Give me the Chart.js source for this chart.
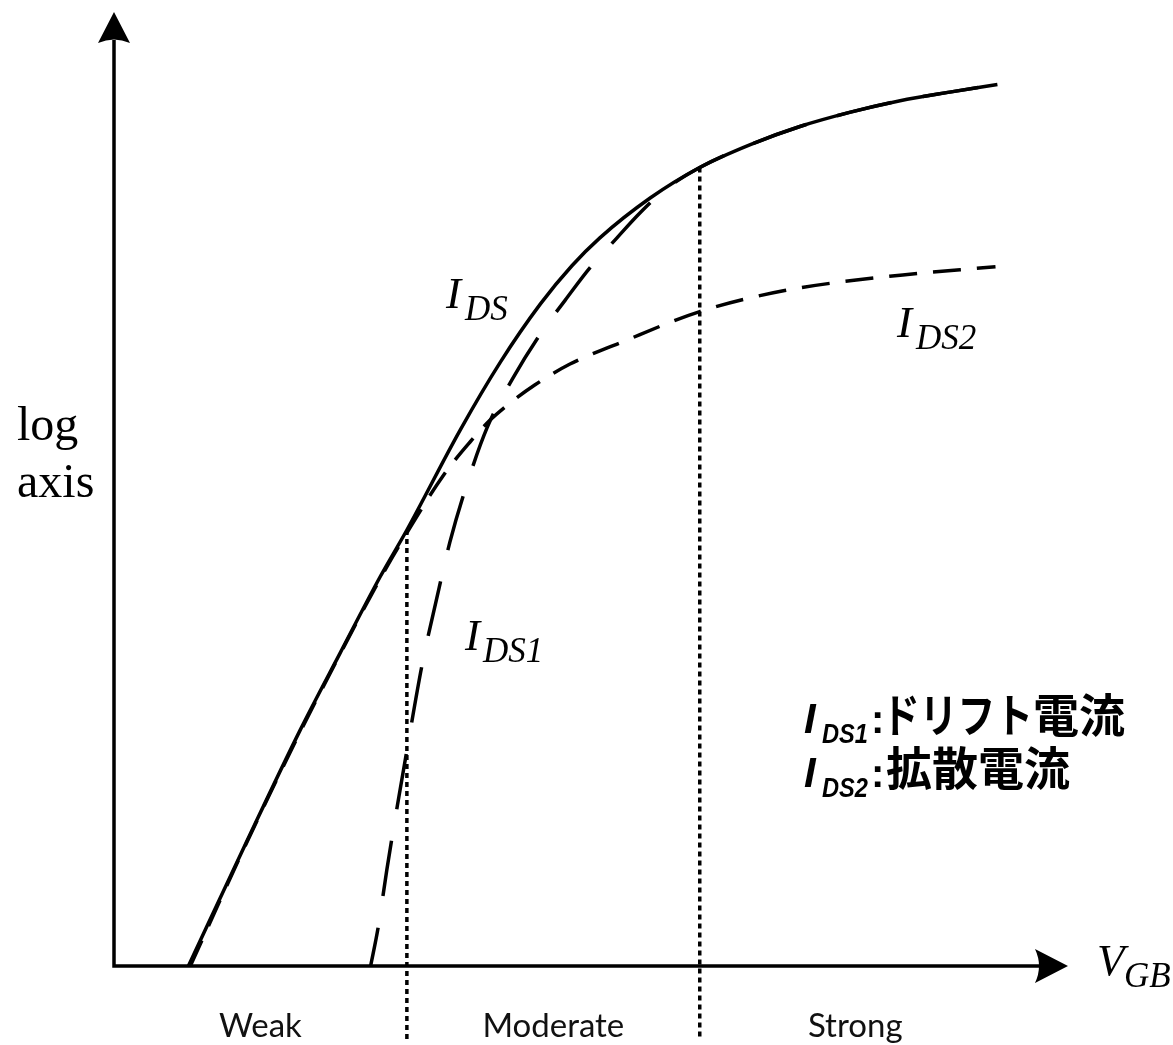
<!DOCTYPE html>
<html>
<head>
<meta charset="utf-8">
<title>I-V regions</title>
<script src="https://cdn.jsdelivr.net/npm/chart.js@4.4.1/dist/chart.umd.min.js"></script>
<style>
  html, body { margin: 0; padding: 0; background: #ffffff; }
  canvas { display: block; }
</style>
</head>
<body>
<canvas id="chart" width="1173" height="1045"></canvas>
<script>
// Gate voltage V_GB (x) against log drain current (y), arbitrary units.
// Total current I_DS
const idsX = [0.78, 1.37, 1.95, 2.37, 2.79, 3.07, 3.63, 4.05, 4.47, 4.80, 5.09, 5.62, 6.14, 6.67, 7.19, 7.72, 8.24, 8.76, 9.26];
const idsY = [0.00, 1.26, 2.47, 3.28, 4.08, 4.57, 5.62, 6.33, 6.94, 7.34, 7.63, 8.05, 8.37, 8.61, 8.80, 8.95, 9.07, 9.16, 9.24];

// Drift component I_DS1
const ids1X = [2.69, 2.77, 2.86, 2.97, 3.07, 3.23, 3.38, 3.52, 3.68, 3.91, 4.18, 4.50, 4.73, 4.99, 5.27, 5.51, 5.78, 6.14, 6.67, 7.19, 7.72, 8.24, 8.76, 9.26];
const ids1Y = [0.00, 0.41, 1.01, 1.68, 2.26, 3.16, 3.84, 4.44, 4.99, 5.64, 6.16, 6.67, 6.98, 7.32, 7.63, 7.89, 8.14, 8.37, 8.61, 8.80, 8.95, 9.07, 9.16, 9.24];

// Diffusion component I_DS2
const ids2X = [0.80, 1.37, 1.95, 2.37, 2.79, 3.07, 3.45, 3.73, 3.94, 4.15, 4.41, 4.78, 5.30, 6.14, 7.03, 8.13, 9.24];
const ids2Y = [0.00, 1.25, 2.45, 3.27, 4.06, 4.54, 5.14, 5.49, 5.72, 5.90, 6.09, 6.31, 6.53, 6.86, 7.08, 7.23, 7.33];

// Inversion regions and their borders on the V_GB axis
const regionEdges = [0, 3.07, 6.14, 9.40];
const regionNames = ['Weak', 'Moderate', 'Strong'];
const separatorFloor = -0.78;

const axisMax = 10;

function toPoints(xs, ys) {
  return xs.map((x, i) => ({ x: x, y: ys[i] }));
}
function idsAt(x) {
  return idsY[idsX.indexOf(x)];
}

const curveStyle = {
  borderColor: '#000000',
  borderWidth: 3.5,
  pointRadius: 0,
  fill: false,
  cubicInterpolationMode: 'monotone',
  borderJoinStyle: 'round'
};

const datasets = [
  Object.assign({ label: 'I_DS', data: toPoints(idsX, idsY) }, curveStyle),
  Object.assign({ label: 'I_DS1', data: toPoints(ids1X, ids1Y), borderDash: [56, 32], borderDashOffset: 17 }, curveStyle),
  Object.assign({ label: 'I_DS2', data: toPoints(ids2X, ids2Y), borderDash: [28, 16] }, curveStyle)
];

// dotted separators from the I_DS curve down past the axis
regionEdges.slice(1, 3).forEach((x) => {
  datasets.push({
    label: 'border ' + x,
    data: [{ x: x, y: idsAt(x) }, { x: x, y: separatorFloor }],
    borderColor: '#000000',
    borderWidth: 3.5,
    borderDash: [5, 4],
    pointRadius: 0,
    fill: false,
    clip: false
  });
});

// axes with arrow heads
const arrowAxes = {
  id: 'arrowAxes',
  beforeDatasetsDraw(chart) {
    const ctx = chart.ctx;
    const xs = chart.scales.x, ys = chart.scales.y;
    const ox = xs.getPixelForValue(0), oy = ys.getPixelForValue(0);
    const tipX = xs.getPixelForValue(axisMax), tipY = ys.getPixelForValue(axisMax);
    ctx.save();
    ctx.strokeStyle = '#000';
    ctx.fillStyle = '#000';
    ctx.lineWidth = 3.5;
    ctx.lineCap = 'butt';
    ctx.beginPath();
    ctx.moveTo(ox, oy + 1.75);
    ctx.lineTo(ox, tipY + 28);
    ctx.moveTo(ox - 1.75, oy);
    ctx.lineTo(tipX - 28, oy);
    ctx.stroke();
    // vertical arrow
    ctx.beginPath();
    ctx.moveTo(ox, tipY);
    ctx.lineTo(ox + 16, tipY + 31);
    ctx.quadraticCurveTo(ox, tipY + 24, ox - 16, tipY + 31);
    ctx.closePath();
    ctx.fill();
    // horizontal arrow
    ctx.beginPath();
    ctx.moveTo(tipX, oy);
    ctx.lineTo(tipX - 33, oy - 17);
    ctx.quadraticCurveTo(tipX - 25, oy, tipX - 33, oy + 17);
    ctx.closePath();
    ctx.fill();
    ctx.restore();
  }
};

function mathLabel(ctx, main, sub, x, y, subDx) {
  ctx.font = 'italic 45px "Liberation Serif"';
  ctx.fillText(main, x, y);
  ctx.font = 'italic 35px "Liberation Serif"';
  ctx.fillText(sub, x + subDx, y + 12);
}

const annotations = {
  id: 'annotations',
  afterDraw(chart) {
    const ctx = chart.ctx;
    const xs = chart.scales.x;
    ctx.save();
    ctx.fillStyle = '#000';
    ctx.textBaseline = 'alphabetic';

    // y-axis caption
    ctx.textAlign = 'left';
    ctx.font = '48px "Liberation Serif"';
    ctx.fillText('log', 17, 440);
    ctx.fillText('axis', 17, 497);

    // curve names
    mathLabel(ctx, 'I', 'DS', 446, 308, 19);
    mathLabel(ctx, 'I', 'DS2', 897, 337, 19);
    mathLabel(ctx, 'I', 'DS1', 465, 650, 18);
    mathLabel(ctx, 'V', 'GB', 1097, 975, 27);

    // legend of the two components
    ctx.font = 'italic bold 42px "Liberation Sans"';
    ctx.fillText('I', 804, 733);
    ctx.fillText('I', 804, 787);
    ctx.font = 'italic bold 28px "Liberation Sans"';
    ctx.fillText('DS1', 822, 743, 46);
    ctx.fillText('DS2', 822, 797, 46);
    ctx.font = 'bold 40px "Liberation Sans"';
    ctx.fillText(':', 871, 733);
    ctx.fillText(':', 871, 787);
    ctx.font = 'bold 46px "Noto Sans CJK JP"';
    ctx.fillText('ドリフト', 882, 732, 151);
    ctx.fillText('電流', 1033, 732);
    ctx.fillText('拡散電流', 886, 785);

    // region names centred between the borders
    ctx.font = '33px Lato';
    ctx.fillStyle = '#111';
    ctx.textAlign = 'center';
    regionNames.forEach((name, i) => {
      const cx = xs.getPixelForValue((regionEdges[i] + regionEdges[i + 1]) / 2);
      ctx.fillText(name, cx, 1037);
    });
    ctx.restore();
  }
};

function build() {
  new Chart(document.getElementById('chart'), {
    type: 'line',
    data: { datasets: datasets },
    options: {
      responsive: false,
      animation: false,
      events: [],
      layout: { padding: { left: 114, right: 105, top: 12, bottom: 79 } },
      scales: {
        x: { type: 'linear', min: 0, max: axisMax, display: false },
        y: { type: 'linear', min: 0, max: axisMax, display: false }
      },
      plugins: { legend: { display: false }, tooltip: { enabled: false } }
    },
    plugins: [arrowAxes, annotations]
  });
}

const fontSpecs = [
  '48px "Liberation Serif"',
  'italic 45px "Liberation Serif"',
  'italic bold 42px "Liberation Sans"',
  'bold 40px "Liberation Sans"',
  'bold 46px "Noto Sans CJK JP"',
  '33px Lato'
];
Promise.all(fontSpecs.map((f) => document.fonts.load(f, 'Ilog電'))).then(build, build);
</script>
</body>
</html>
